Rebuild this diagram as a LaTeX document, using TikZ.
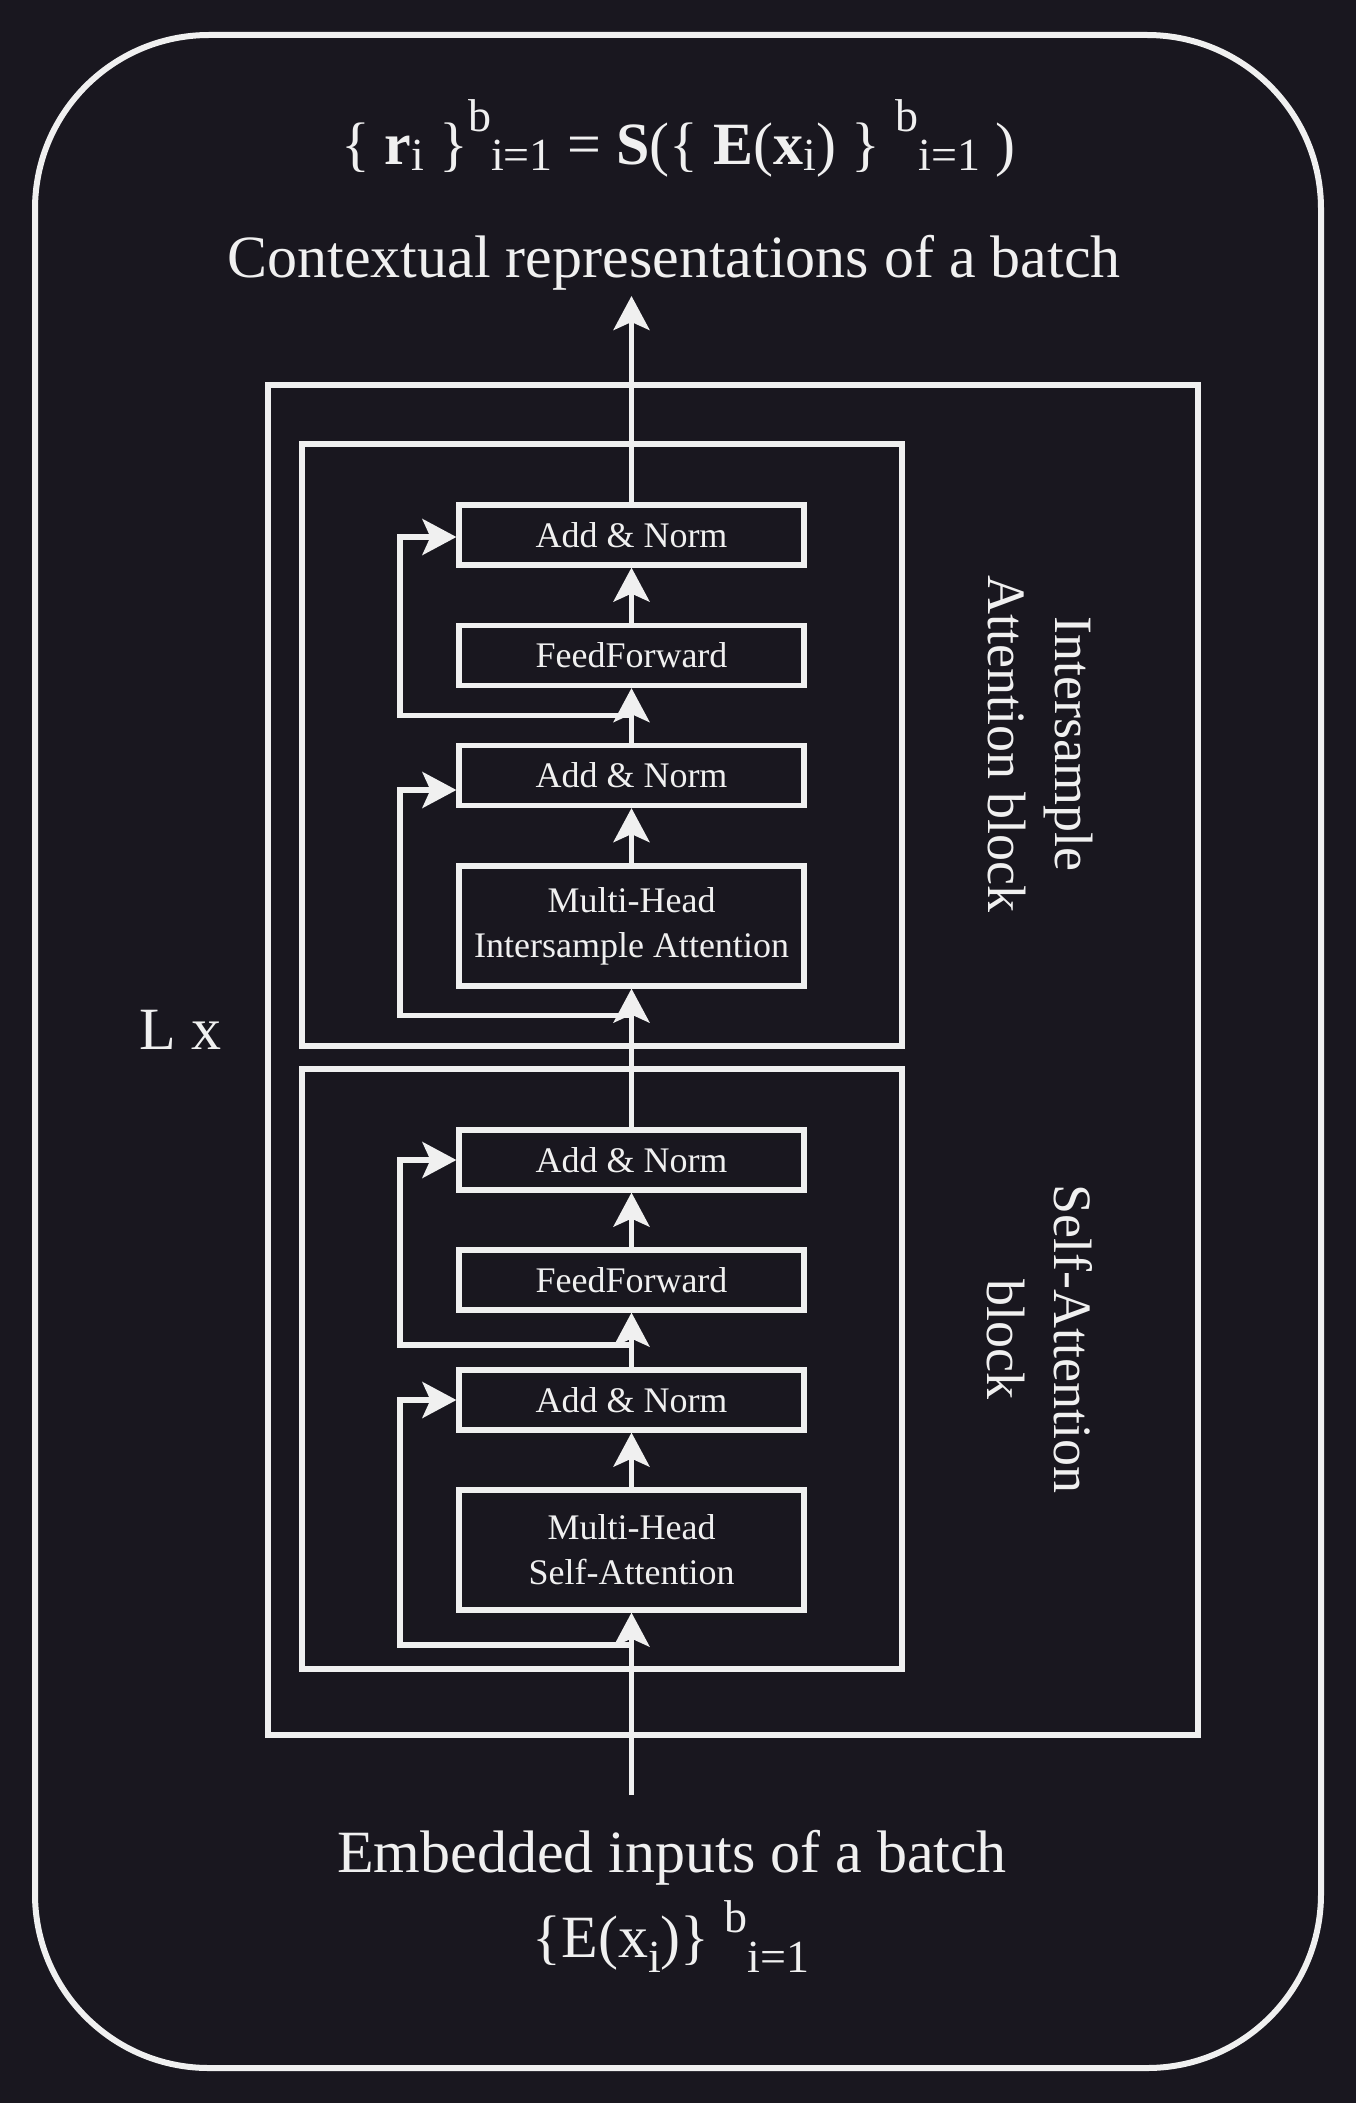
\documentclass[tikz,border=0pt]{standalone}
\usepackage{fontspec}
\setmainfont{Liberation Serif}
\usetikzlibrary{arrows.meta}
\definecolor{bg}{RGB}{25,23,31}
\definecolor{fg}{RGB}{240,240,240}
% raised / lowered small text for the batch notation
\newcommand\shiftsm[2]{\raisebox{#1}{\fontsize{23}{23}\selectfont #2}}
\begin{document}
\begin{tikzpicture}[x=0.5pt,y=-0.5pt,
  color=fg, line width=2.6pt, line join=miter,
  layerbox/.style={draw, inner sep=0pt, minimum width=172.5pt, minimum height=30pt,
    align=center, font=\fontsize{18}{22.5}\selectfont},
  frame/.style={draw, inner sep=0pt},
  arr/.style={-{Stealth[length=17pt,width=18pt,inset=4pt]}},
  big/.style={font=\fontsize{30}{36}\selectfont, inner sep=0pt},
  side/.style={rotate=-90, align=center, inner sep=0pt, font=\fontsize{27}{33.5}\selectfont}]

% canvas and outer rounded frame
\fill[bg] (0,0) rectangle (1356,2103);
\draw[line width=3pt, rounded corners=87pt] (35,35) rectangle (1321,2068);

% repeated stack frame and the two blocks
\node[frame, minimum width=465pt, minimum height=675pt] (stack) at (733,1060) {};
\node[frame, minimum width=300pt, minimum height=301pt] (iblock) at (602,745) {};
\node[frame, minimum width=300pt, minimum height=300pt] (sblock) at (602,1369) {};

% self-attention block layers
\node[layerbox, minimum height=60pt] (smh) at (631.5,1550) {Multi-Head\\Self-Attention};
\node[layerbox] (san1) at (631.5,1400) {Add \& Norm};
\node[layerbox] (sff) at (631.5,1280) {FeedForward};
\node[layerbox] (san2) at (631.5,1160) {Add \& Norm};

% intersample attention block layers
\node[layerbox, minimum height=60pt] (imh) at (631.5,926) {Multi-Head\\Intersample Attention};
\node[layerbox] (ian1) at (631.5,775.5) {Add \& Norm};
\node[layerbox] (iff) at (631.5,655.5) {FeedForward};
\node[layerbox] (ian2) at (631.5,535) {Add \& Norm};

% input / output ends of the main data path
\coordinate (in) at (631.5,1795);
\coordinate (out) at (631.5,296);

% residual branch points and corners
\coordinate (b1) at (631.5,1645);   \coordinate (s1) at (400,1400);
\coordinate (b2) at (631.5,1345);   \coordinate (s2) at (400,1160);
\coordinate (b3) at (631.5,1015.5); \coordinate (s3) at (400,790);
\coordinate (b4) at (631.5,715.5);  \coordinate (s4) at (400,537);

% residual connections
\draw[arr] (b1) -| (s1) -- (s1 -| san1.west);
\draw[arr] (b2) -| (s2) -- (s2 -| san2.west);
\draw[arr] (b3) -| (s3) -- (s3 -| ian1.west);
\draw[arr] (b4) -| (s4) -- (s4 -| ian2.west);

% main data path
\draw[arr] (in) -- (smh);
\draw[arr] (smh) -- (san1);
\draw[arr] (san1) -- (sff);
\draw[arr] (sff) -- (san2);
\draw[arr] (san2) -- (imh);
\draw[arr] (imh) -- (ian1);
\draw[arr] (ian1) -- (iff);
\draw[arr] (iff) -- (ian2);
\draw[arr] (ian2) -- (out);

% block labels
\node[side] (ilabel) at (1040,744) {Intersample\\Attention block};
\node[side] (slabel) at (1040,1339) {Self-Attention\\block};
\node[big, anchor=base west] (rep) at (137,1049) {L x};

% output text
\node[big, anchor=base] (eqout) at (678,165)
  {\{ \textbf{r}\shiftsm{-3pt}{i} \}\shiftsm{16.5pt}{b}\shiftsm{-3pt}{i=1} = \textbf{S}(\{ \textbf{E}(\textbf{x}\shiftsm{-3pt}{i}) \} \shiftsm{16.5pt}{b}\shiftsm{-3pt}{i=1} )};
\node[big, anchor=base] (outtxt) at (674,278) {Contextual representations of a batch};

% input text
\node[big, anchor=base] (intxt) at (672,1872) {Embedded inputs of a batch};
\node[big, anchor=base] (eqin) at (671,1957)
  {\{E(x\shiftsm{-7.5pt}{i})\} \shiftsm{12.5pt}{b}\shiftsm{-7.5pt}{i=1}};
\end{tikzpicture}
\end{document}
